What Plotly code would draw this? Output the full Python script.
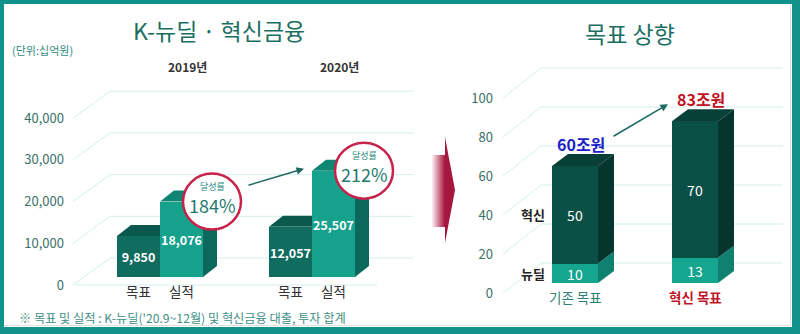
import plotly.graph_objects as go

# ---------------- data ----------------
years = ["2019년", "2020년"]
bar_names = ["목표", "실적"]
target_vals = [9850, 12057]      # 목표 (십억원)
actual_vals = [18076, 25507]     # 실적 (십억원)
left_ticks = [0, 10000, 20000, 30000, 40000]

goal_cats = ["기존 목표", "혁신 목표"]
seg_names = ["뉴딜", "혁신"]
newdeal_vals = [10, 13]          # 뉴딜 (조원)
innov_vals = [50, 70]            # 혁신 (조원)
right_ticks = [0, 20, 40, 60, 80, 100]

# ---------------- layout constants ----------------
W, H = 800, 334
FONT = "Noto Sans CJK KR"

L_ZERO, L_LABEL_ZERO, L_SCALE = 277, 285, 41.7 / 10000   # px of zero, px per unit
R_ZERO, R_LABEL_ZERO, R_SCALE = 283, 293, 1.95

L_CENTERS = [160, 312]
L_W = 43
L_DX, L_DY = 14, 11
R_CENTERS = [575, 695]
R_W = 46
R_DX, R_DY = 16, 12

TGT_FRONT, TGT_TOP, TGT_SIDE = "#0f6c5e", "#0b594d", "#094a40"
ACT_FRONT, ACT_TOP, ACT_SIDE = "#15a18c", "#0f8574", "#0b685c"
INN_FRONT, INN_TOP, INN_SIDE = "#0b5046", "#083f37", "#06352d"
ND_FRONT, ND_SIDE = "#15a68f", "#0f8170"
GRID = "#d4eeee"


def yrange(zero_px, scale):
    return [(zero_px - H) / scale, zero_px / scale]


def py(px):
    return 1 - px / H


def label(x, y, text, size, color, xref="x", yref="paper", weight="normal", **kw):
    d = dict(x=x, y=y, xref=xref, yref=yref, text=text, showarrow=False,
             xanchor=kw.pop("xanchor", "center"), yanchor="middle",
             font=dict(family=FONT, size=size, color=color, weight=weight))
    d.update(kw)
    return d


shapes = []
annotations = []

# ---------------- perspective grid ----------------
for v in left_ticks:
    vb = v + 27 / L_SCALE
    shapes.append(dict(type="path", xref="x", yref="y2", layer="below",
                       path=f"M73,{v} L110,{vb} L413,{vb}",
                       line=dict(color=GRID, width=1)))
shapes.append(dict(type="line", xref="x", yref="y2", layer="below",
                   x0=75, x1=377, y0=0, y1=0, line=dict(color=GRID, width=1)))
for v in right_ticks:
    vb = v + 30 / R_SCALE
    shapes.append(dict(type="path", xref="x", yref="y4", layer="below",
                       path=f"M503,{v} L541,{vb} L783,{vb}",
                       line=dict(color=GRID, width=1)))


def box_faces(x0, x1, base, top, yref, scale, dx, dy, top_color, side_color, with_top=True):
    d = dy / scale
    out = []
    if with_top:
        out.append(dict(type="path", xref="x", yref=yref, layer="below",
                        path=f"M{x0},{top} L{x1},{top} L{x1 + dx},{top + d} L{x0 + dx},{top + d} Z",
                        fillcolor=top_color, line=dict(width=0)))
    out.append(dict(type="path", xref="x", yref=yref, layer="below",
                    path=f"M{x1},{base} L{x1},{top} L{x1 + dx},{top + d} L{x1 + dx},{base + d} Z",
                    fillcolor=side_color, line=dict(width=0)))
    return out


fig = go.Figure()

# ---------------- left chart: 목표 vs 실적 ----------------
tgt_x = [c - L_W / 2 for c in L_CENTERS]
act_x = [c + L_W / 2 for c in L_CENTERS]
for i in range(len(years)):
    shapes += box_faces(tgt_x[i] - L_W / 2, tgt_x[i] + L_W / 2, 0, target_vals[i], "y",
                        L_SCALE, L_DX, L_DY, TGT_TOP, TGT_SIDE)
    shapes += box_faces(act_x[i] - L_W / 2, act_x[i] + L_W / 2, 0, actual_vals[i], "y",
                        L_SCALE, L_DX, L_DY, ACT_TOP, ACT_SIDE)

bar_font = dict(family=FONT, size=12.5, color="white", weight="bold")
fig.add_trace(go.Bar(x=tgt_x, y=target_vals, width=L_W, name=bar_names[0],
                     marker=dict(color=TGT_FRONT, line=dict(width=0)),
                     text=[f"{v:,}" for v in target_vals], textposition="inside",
                     insidetextanchor="middle", textangle=0, constraintext="none",
                     insidetextfont=bar_font, xaxis="x", yaxis="y", hoverinfo="skip"))
fig.add_trace(go.Bar(x=act_x, y=actual_vals, width=L_W, name=bar_names[1],
                     marker=dict(color=ACT_FRONT, line=dict(width=0)),
                     text=[f"{v:,}" for v in actual_vals], textposition="inside",
                     insidetextanchor="middle", textangle=0, constraintext="none",
                     insidetextfont=bar_font, xaxis="x", yaxis="y", hoverinfo="skip"))

# category labels and year labels
for i in range(len(years)):
    annotations.append(label(tgt_x[i], py(291), bar_names[0], 13.5, "#333"))
    annotations.append(label(act_x[i], py(291), bar_names[1], 13.5, "#333"))
    annotations.append(label(L_CENTERS[i] + 27, py(67), years[i], 12, "#333", weight="bold"))

# achievement-rate circles
for i in range(len(years)):
    rate = round(actual_vals[i] / target_vals[i] * 100)
    cx = act_x[i] + L_W / 2 + 9
    shapes.append(dict(type="circle", xref="x", yref="y", xsizemode="pixel", ysizemode="pixel",
                       xanchor=cx, yanchor=actual_vals[i], x0=-29, x1=29, y0=-28, y1=28,
                       fillcolor="white", line=dict(color="#c8224b", width=2.5), layer="above"))
    annotations.append(label(cx, actual_vals[i], "달성률", 9, "#2a8a7e", yref="y", yshift=15))
    annotations.append(label(cx, actual_vals[i], f"{rate}%", 18, "#1f7a70", yref="y", yshift=-3))

# arrow between the two circles
annotations.append(dict(x=act_x[1] - L_W / 2 - 8, y=actual_vals[1] + 2 / L_SCALE, xref="x", yref="y",
                        ax=-57, ay=17, text="", showarrow=True, arrowhead=2, arrowsize=1,
                        arrowwidth=1.5, arrowcolor="#1d6a60"))

# ---------------- right chart: 목표 상향 ----------------
for i in range(len(goal_cats)):
    x0, x1 = R_CENTERS[i] - R_W / 2, R_CENTERS[i] + R_W / 2
    shapes += box_faces(x0, x1, 0, newdeal_vals[i], "y3", R_SCALE, R_DX, R_DY,
                        ND_SIDE, ND_SIDE, with_top=False)
    shapes += box_faces(x0, x1, newdeal_vals[i], newdeal_vals[i] + innov_vals[i], "y3",
                        R_SCALE, R_DX, R_DY, INN_TOP, INN_SIDE)

seg_font = dict(family=FONT, size=14, color="white")
fig.add_trace(go.Bar(x=R_CENTERS, y=newdeal_vals, width=R_W, name=seg_names[0],
                     marker=dict(color=ND_FRONT, line=dict(width=0)),
                     text=[str(v) for v in newdeal_vals], textposition="inside",
                     insidetextanchor="middle", textangle=0, constraintext="none",
                     insidetextfont=seg_font, xaxis="x", yaxis="y3", hoverinfo="skip"))
fig.add_trace(go.Bar(x=R_CENTERS, y=innov_vals, width=R_W, name=seg_names[1],
                     marker=dict(color=INN_FRONT, line=dict(width=0)),
                     text=[str(v) for v in innov_vals], textposition="inside",
                     insidetextanchor="middle", textangle=0, constraintext="none",
                     insidetextfont=seg_font, xaxis="x", yaxis="y3", hoverinfo="skip"))

# segment names beside the first bar
annotations.append(label(533, newdeal_vals[0] / 2, seg_names[0], 13, "#222", yref="y3", weight="bold"))
annotations.append(label(533, newdeal_vals[0] + innov_vals[0] / 2, seg_names[1], 13, "#222",
                         yref="y3", weight="bold"))

# category labels
cat_colors = ["#2f8077", "#c0182b"]
for i, cat in enumerate(goal_cats):
    annotations.append(label(R_CENTERS[i], py(297), cat, 13.5, cat_colors[i],
                             weight="bold" if i == 1 else "normal"))

# totals above the bars
totals = [n + v for n, v in zip(newdeal_vals, innov_vals)]
total_colors = ["#1c22c9", "#c1121f"]
for i, t in enumerate(totals):
    annotations.append(label(R_CENTERS[i] + 6, t, f"{t}조원", 16, total_colors[i],
                             yref="y3", weight="bold", yshift=22))

annotations.append(dict(x=R_CENTERS[1] - R_W / 2 - 4, y=totals[1] + 17 / R_SCALE, xref="x", yref="y3",
                        ax=-56, ay=33, text="", showarrow=True, arrowhead=2, arrowsize=1,
                        arrowwidth=1.5, arrowcolor="#1d6a60"))

# ---------------- titles and notes ----------------
annotations += [
    label(219, py(30), "K-뉴딜 · 혁신금융", 23, "#1b6f62"),
    label(630, py(33), "목표 상향", 23, "#1b6f62"),
    label(10, py(50), "(단위:십억원)", 11, "#2f8b80", xanchor="left"),
    label(17, py(318), "※ 목표 및 실적 : K-뉴딜('20.9~12월) 및 혁신금융 대출, 투자 합계",
          12.2, "#3f8f86", xanchor="left"),
]

# ---------------- transition arrow between the panels ----------------
c0, c1 = (250, 232, 236), (168, 28, 66)
n = 13
for k in range(n):
    t = k / (n - 1)
    col = tuple(round(a + (b - a) * t) for a, b in zip(c0, c1))
    shapes.append(dict(type="rect", xref="x", yref="paper", x0=432 + k, x1=433 + k,
                       y0=py(227), y1=py(155), fillcolor=f"rgb{col}", line=dict(width=0)))
shapes.append(dict(type="path", xref="x", yref="paper",
                   path=f"M445,{py(137)} L455,{py(190)} L445,{py(243)} Z",
                   fillcolor="#a5173f", line=dict(width=0)))

# ---------------- frame ----------------
FRAME = "#11928a"
shapes += [
    dict(type="line", xref="paper", yref="paper", x0=790.5 / W, x1=790.5 / W, y0=py(326), y1=py(4),
         line=dict(color="#dedede", width=1)),
    dict(type="line", xref="paper", yref="paper", x0=4 / W, x1=791 / W, y0=py(325.5), y1=py(325.5),
         line=dict(color="#dedede", width=1)),
    dict(type="rect", xref="paper", yref="paper", x0=0, x1=1, y0=py(4), y1=1,
         fillcolor=FRAME, line=dict(width=0)),
    dict(type="rect", xref="paper", yref="paper", x0=0, x1=4 / W, y0=0, y1=1,
         fillcolor=FRAME, line=dict(width=0)),
    dict(type="rect", xref="paper", yref="paper", x0=792 / W, x1=1, y0=0, y1=1,
         fillcolor=FRAME, line=dict(width=0)),
    dict(type="rect", xref="paper", yref="paper", x0=0, x1=1, y0=0, y1=py(327),
         fillcolor=FRAME, line=dict(width=0)),
]

tick_font_l = dict(family=FONT, size=13, color="#3b6f69")
fig.update_layout(
    width=W, height=H, margin=dict(l=0, r=0, t=0, b=0),
    paper_bgcolor="white", plot_bgcolor="rgba(0,0,0,0)",
    showlegend=False, barmode="stack", bargap=0,
    xaxis=dict(range=[0, W], domain=[0, 1], visible=False, fixedrange=True),
    yaxis=dict(range=yrange(L_ZERO, L_SCALE), domain=[0, 1], visible=False, fixedrange=True),
    yaxis2=dict(range=yrange(L_LABEL_ZERO, L_SCALE), overlaying="y", anchor="free",
                position=64 / W, side="left", tickvals=left_ticks, tickformat=",",
                showgrid=False, zeroline=False, showline=False, ticks="",
                tickfont=tick_font_l, fixedrange=True),
    yaxis3=dict(range=yrange(R_ZERO, R_SCALE), overlaying="y", visible=False, fixedrange=True),
    yaxis4=dict(range=yrange(R_LABEL_ZERO, R_SCALE), overlaying="y", anchor="free",
                position=493 / W, side="left", tickvals=right_ticks,
                showgrid=False, zeroline=False, showline=False, ticks="",
                tickfont=tick_font_l, fixedrange=True),
    shapes=shapes, annotations=annotations,
    font=dict(family=FONT),
)

fig.write_html("out.html")
